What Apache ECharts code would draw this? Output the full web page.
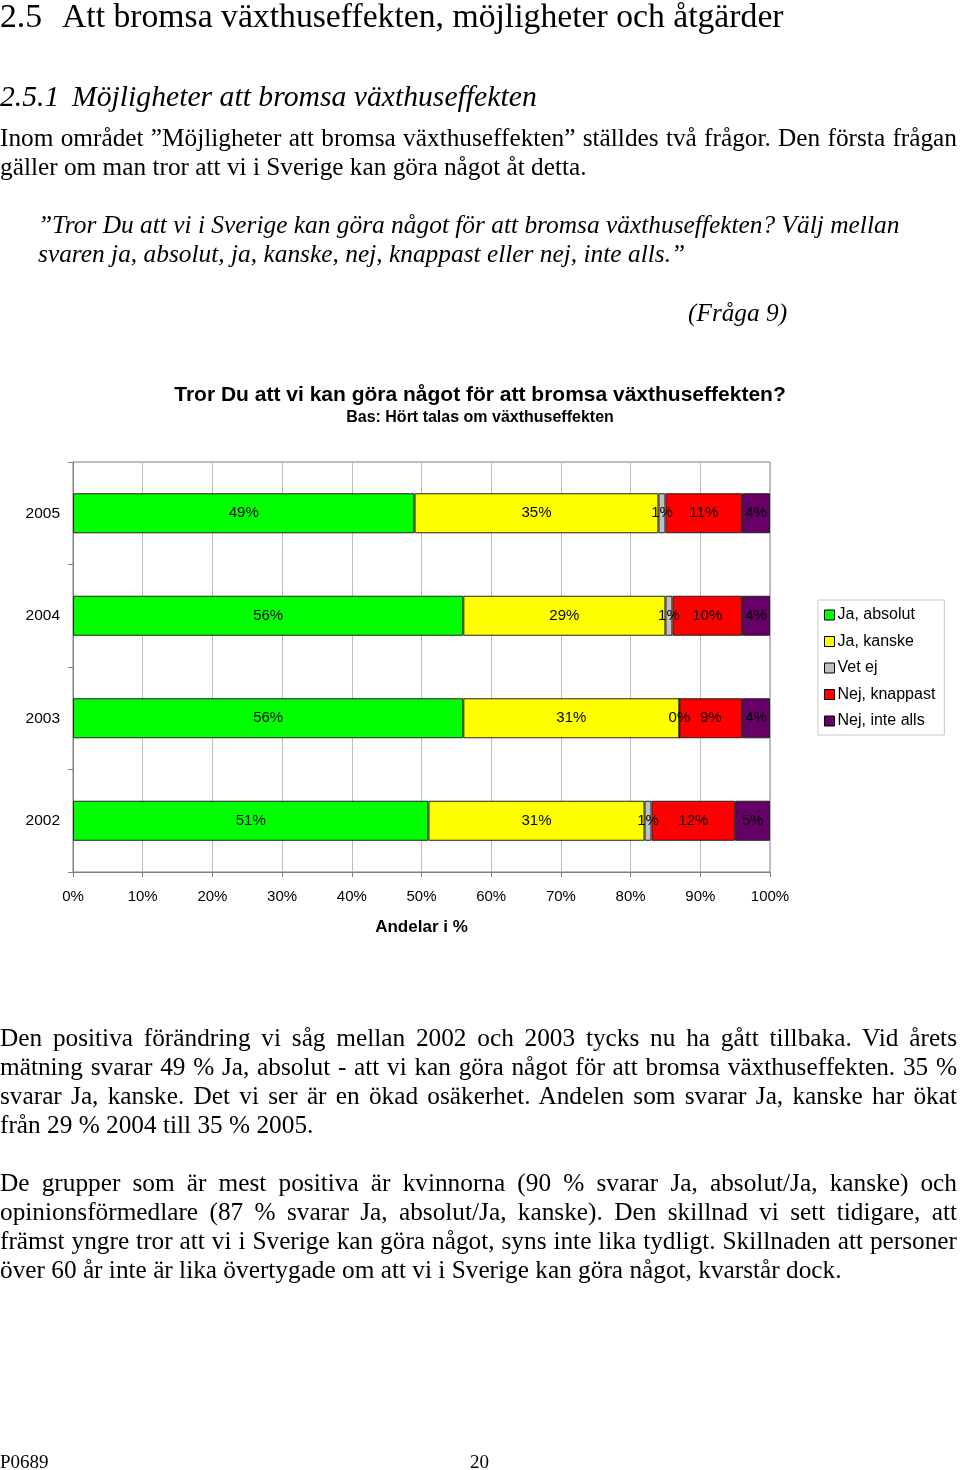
<!DOCTYPE html>
<html>
<head>
<meta charset="utf-8">
<script src="https://cdn.jsdelivr.net/npm/echarts@6/dist/echarts.min.js"></script>
<style>
  html, body { margin: 0; padding: 0; background: #fff; }
  #page { position: relative; width: 960px; height: 1470px; overflow: hidden; }
  #chart { position: absolute; left: 0; top: 0; width: 960px; height: 1470px; }
  .t { position: absolute; font-family: "Liberation Serif", "Times New Roman", serif; color: #000; white-space: nowrap; z-index: 2; }
  .j { text-align: justify; text-align-last: justify; white-space: normal; width: 957px; }
  .i { font-style: italic; }
</style>
</head>
<body>
<div id="page">
  <div id="chart"></div>
</div>
<script>
// ---- chart data ----
const categories = ['2002', '2003', '2004', '2005'];
const seriesNames = ['Ja, absolut', 'Ja, kanske', 'Vet ej', 'Nej, knappast', 'Nej, inte alls'];
const jaAbsolut   = [51, 56, 56, 49];
const jaKanske    = [31, 31, 29, 35];
const vetEj       = [1, 0, 1, 1];
const nejKnappast = [12, 9, 10, 11];
const nejInteAlls = [5, 4, 4, 4];
const chartTitle = 'Tror Du att vi kan göra något för att bromsa växthuseffekten?';
const chartSubtitle = 'Bas: Hört talas om växthuseffekten';
const axisName = 'Andelar i %';

// ---- document text lines: [text, left, baseline, fontSize, classes] ----
const docLines = [
  ['2.5', 0, 27, 33.7, ''],
  ['Att bromsa växthuseffekten, möjligheter och åtgärder', 62, 27, 33.7, ''],
  ['2.5.1', 0, 107, 29.7, 'i'],
  ['Möjligheter att bromsa växthuseffekten', 72, 107, 29.7, 'i'],
  ['Inom området ”Möjligheter att bromsa växthuseffekten” ställdes två frågor. Den första frågan', 0, 146, 25.3, 'j'],
  ['gäller om man tror att vi i Sverige kan göra något åt detta.', 0, 175, 25.3, ''],
  ['”Tror Du att vi i Sverige kan göra något för att bromsa växthuseffekten? Välj mellan', 38, 233, 25.4, 'i'],
  ['svaren ja, absolut, ja, kanske, nej, knappast eller nej, inte alls.”', 38, 262, 25.4, 'i'],
  ['(Fråga 9)', 688, 321, 25.3, 'i'],
  ['Den positiva förändring vi såg mellan 2002 och 2003 tycks nu ha gått tillbaka. Vid årets', 0, 1046, 25.3, 'j'],
  ['mätning svarar 49 % Ja, absolut - att vi kan göra något för att bromsa växthuseffekten. 35 %', 0, 1075, 25.3, 'j'],
  ['svarar Ja, kanske. Det vi ser är en ökad osäkerhet. Andelen som svarar Ja, kanske har ökat', 0, 1104, 25.3, 'j'],
  ['från 29 % 2004 till 35 % 2005.', 0, 1133, 25.3, ''],
  ['De grupper som är mest positiva är kvinnorna (90 % svarar Ja, absolut/Ja, kanske) och', 0, 1191, 25.3, 'j'],
  ['opinionsförmedlare (87 % svarar Ja, absolut/Ja, kanske). Den skillnad vi sett tidigare, att', 0, 1220, 25.3, 'j'],
  ['främst yngre tror att vi i Sverige kan göra något, syns inte lika tydligt. Skillnaden att personer', 0, 1249, 25.3, 'j'],
  ['över 60 år inte är lika övertygade om att vi i Sverige kan göra något, kvarstår dock.', 0, 1278, 25.3, ''],
  ['P0689', 0, 1468, 19, ''],
  ['20', 470, 1468, 19, '']
];

const page = document.getElementById('page');
docLines.forEach(function (l) {
  const d = document.createElement('div');
  d.className = 't ' + l[4];
  d.textContent = l[0];
  d.style.left = l[1] + 'px';
  d.style.fontSize = l[3] + 'px';
  d.style.lineHeight = l[3] + 'px';
  d.style.top = (l[2] - 0.8375 * l[3]) + 'px';
  page.appendChild(d);
});

const FONT = '"Liberation Sans", Arial, sans-serif';
const colors = ['#00FF00', '#FFFF00', '#C0C0C0', '#FF0000', '#660066'];
const values = [jaAbsolut, jaKanske, vetEj, nejKnappast, nejInteAlls];

const chart = echarts.init(document.getElementById('chart'), null, { renderer: 'canvas' });
chart.setOption({
  animation: false,
  backgroundColor: 'transparent',
  textStyle: { fontFamily: FONT },
  title: {
    text: chartTitle,
    subtext: chartSubtitle,
    left: 'center',
    top: 385,
    padding: 0,
    itemGap: 4,
    textStyle: { fontSize: 21, fontWeight: 'bold', color: '#000', fontFamily: FONT },
    subtextStyle: { fontSize: 16, fontWeight: 'bold', color: '#000', fontFamily: FONT }
  },
  legend: {
    orient: 'vertical',
    left: 818,
    top: 600,
    padding: [7, 9, 6, 6],
    itemWidth: 10,
    itemHeight: 10,
    itemGap: 10.5,
    icon: 'rect',
    borderColor: '#c8c8c8',
    borderWidth: 1,
    itemStyle: { borderColor: '#000', borderWidth: 1 },
    textStyle: { fontSize: 16, color: '#000', fontFamily: FONT, padding: [0, 0, 0, -2] },
    data: seriesNames
  },
  grid: {
    left: 73, top: 462, width: 697, height: 410,
    show: true, borderColor: '#808080', borderWidth: 1
  },
  xAxis: {
    type: 'value', min: 0, max: 100, interval: 10,
    axisLine: { show: true, lineStyle: { color: '#808080' } },
    axisTick: { show: true, length: 5, lineStyle: { color: '#808080' } },
    splitLine: { show: true, lineStyle: { color: '#bbbbbb' } },
    axisLabel: { formatter: '{value}%', fontSize: 15, color: '#000', margin: 17, fontFamily: FONT },
    name: axisName, nameLocation: 'middle', nameGap: 47,
    nameTextStyle: { fontSize: 17, fontWeight: 'bold', color: '#000', fontFamily: FONT }
  },
  yAxis: {
    type: 'category', data: categories,
    axisLine: { show: true, lineStyle: { color: '#808080' } },
    axisTick: { show: true, length: 5, lineStyle: { color: '#808080' } },
    axisLabel: { fontSize: 15.5, color: '#000', margin: 13, fontFamily: FONT },
    splitLine: { show: false }
  },
  series: seriesNames.map(function (name, i) {
    return {
      name: name,
      type: 'bar',
      stack: 'total',
      barWidth: 40,
      data: values[i],
      itemStyle: { color: colors[i], borderColor: '#222', borderWidth: 1 },
      label: {
        show: true, position: 'inside', formatter: '{c}%',
        fontSize: 15, color: '#000', fontFamily: FONT
      }
    };
  })
});
</script>
</body>
</html>
